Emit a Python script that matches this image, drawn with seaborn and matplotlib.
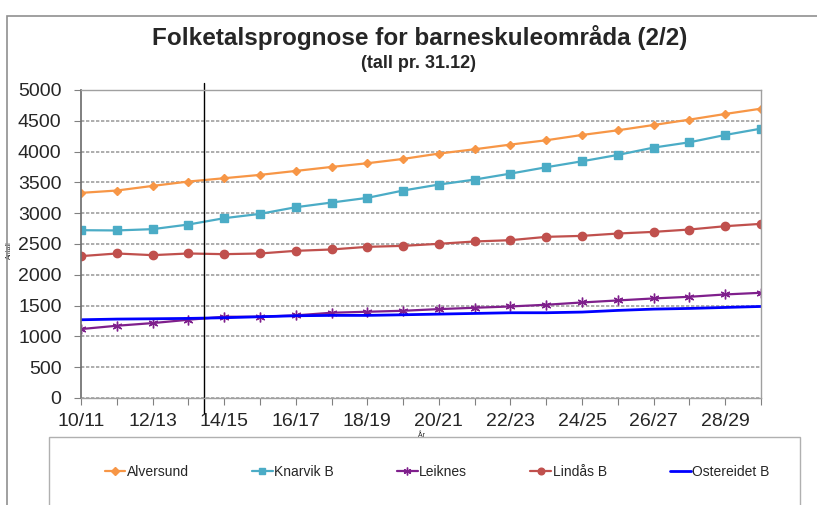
import numpy as np
import pandas as pd
import matplotlib
matplotlib.use("Agg")
import matplotlib.pyplot as plt
import seaborn as sns
from matplotlib.patches import Rectangle

# school years 10/11 .. 29/30
years = [f"{y % 100:02d}/{(y + 1) % 100:02d}" for y in range(2010, 2030)]

alversund = [3330, 3368, 3443, 3514, 3568, 3622, 3686, 3751, 3811, 3881,
             3968, 4038, 4114, 4184, 4270, 4346, 4432, 4519, 4611, 4697]
knarvik = [2724, 2720, 2741, 2816, 2919, 2989, 3097, 3173, 3249, 3368,
           3465, 3546, 3643, 3746, 3843, 3946, 4065, 4151, 4270, 4373]
leiknes = [1119, 1173, 1216, 1270, 1319, 1319, 1341, 1384, 1400, 1416,
           1443, 1465, 1486, 1514, 1551, 1584, 1616, 1643, 1681, 1708]
lindas = [2303, 2346, 2319, 2346, 2335, 2346, 2389, 2411, 2454, 2470,
          2503, 2541, 2562, 2616, 2632, 2670, 2697, 2735, 2789, 2827]
ostereidet = [1270, 1281, 1286, 1292, 1303, 1319, 1335, 1341, 1341, 1351,
              1362, 1373, 1384, 1384, 1395, 1422, 1443, 1454, 1470, 1486]

series = {"Alversund": alversund, "Knarvik B": knarvik, "Leiknes": leiknes,
          "Lindås B": lindas, "Ostereidet B": ostereidet}
styles = {
    "Alversund": dict(color="#F79646", marker="D", markersize=4.5, lw=1.6),
    "Knarvik B": dict(color="#4BACC6", marker="s", markersize=6, lw=1.6),
    "Leiknes": dict(color="#7F1F8C", marker=(6, 2, 0), markersize=7, lw=1.6),
    "Lindås B": dict(color="#C0504D", marker="o", markersize=6, lw=1.6),
    "Ostereidet B": dict(color="#0000FF", marker=None, markersize=0, lw=2.0),
}

sns.set_theme(style="white")
plt.rcParams["font.family"] = ["Liberation Sans", "DejaVu Sans"]

fig = plt.figure(figsize=(8.17, 5.05), dpi=100)
ax = fig.add_axes([81 / 817, 1 - 398 / 505, 680 / 817, 308 / 505])

x = np.arange(len(years))
for name, vals in series.items():
    st = styles[name]
    sns.lineplot(x=x, y=vals, ax=ax, color=st["color"], marker=st["marker"],
                 markersize=st["markersize"], markeredgecolor=st["color"],
                 markeredgewidth=1.0, linewidth=st["lw"], label=name, legend=False)

ax.set_xlim(0, len(years) - 1)
ax.set_ylim(0, 5000)
ax.set_yticks(range(0, 5001, 500))
ax.set_xticks(x)
ax.set_xticklabels([y if i % 2 == 0 else "" for i, y in enumerate(years)])
ax.tick_params(axis="both", labelsize=14, length=5, width=0.8, color="#808080",
               direction="out", bottom=True, left=True)
ax.tick_params(axis="y", pad=9)
ax.tick_params(axis="x", pad=6)
ax.yaxis.grid(True, linestyle=(0, (2, 1)), color="#A0A0A0", linewidth=1.2)
ax.set_axisbelow(True)
for side in ["top", "right", "bottom"]:
    ax.spines[side].set_color("#A0A0A0")
    ax.spines[side].set_linewidth(1.0)
ax.spines["left"].set_color("#707070")

ax.set_xlabel("År", fontsize=5, labelpad=1)
ax.set_ylabel("Antall", fontsize=5, labelpad=0)
ax.yaxis.set_label_coords(-0.1, 0.48)

# start of forecast
ax.axvline(3.45, ymin=-0.05, ymax=1.023, color="black", lw=1.0, clip_on=False)

fig.suptitle("Folketalsprognose for barneskuleområda (2/2)", x=0.514,
             y=1 - 37 / 505, fontsize=17.5, fontweight="bold", va="center")
fig.text(0.512, 1 - 63 / 505, "(tall pr. 31.12)", ha="center", va="center",
         fontsize=13, fontweight="bold")

# chart border and legend box
fig.patches.append(Rectangle((7 / 817, -0.1), 1.0, 1.1 - 16 / 505,
                             transform=fig.transFigure, fill=False,
                             edgecolor="#909090", lw=1.2))
fig.patches.append(Rectangle((49 / 817, -0.1), 751 / 817, 0.1 + 68 / 505,
                             transform=fig.transFigure, fill=False,
                             edgecolor="#B0B0B0", lw=1.0))
handles, labels = ax.get_legend_handles_labels()
fig.legend(handles, labels, loc="center left", ncol=5, mode="expand",
           bbox_to_anchor=(92 / 817, 1 - 472 / 505, 690 / 817, 0.0),
           frameon=False, fontsize=10, handlelength=1.5, handletextpad=0.1,
           markerscale=0.8)

fig.savefig("out.png", dpi=100)
